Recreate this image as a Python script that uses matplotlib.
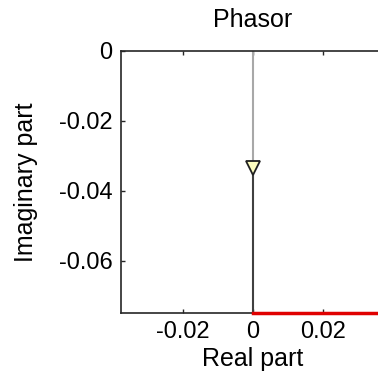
import matplotlib
matplotlib.use("Agg")
import matplotlib.pyplot as plt

plt.rcParams['font.family'] = ['Liberation Sans', 'DejaVu Sans']

# phasor data
phasor_x = [0.0, 0.0]
phasor_y = [0.0, -0.033]
tail_x = [0.0, 0.0]
tail_y = [-0.035, -0.075]
trace_x = [0.0, 0.04]
trace_y = [-0.075, -0.075]
arrow_x = [0.0]
arrow_y = [-0.0335]

xticks = [-0.02, 0, 0.02]
xlabels = ['-0.02', '0', '0.02']
yticks = [0, -0.02, -0.04, -0.06]
ylabels = ['0', '-0.02', '-0.04', '-0.06']

fig = plt.figure(figsize=(3.78, 3.85), dpi=100)
ax = fig.add_axes([0.320, 0.186, 0.699, 0.682])

ax.plot(phasor_x, phasor_y, color='#a8a8a8', lw=1.5, zorder=2)
ax.plot(tail_x, tail_y, color='#404040', lw=1.5, zorder=2)
ax.plot(trace_x, trace_y, color='#e00000', lw=2.5, zorder=3, clip_on=False)
ax.plot(arrow_x, arrow_y, marker='v', ms=10, mfc='#ffffc0', mec='#202020',
        mew=1.3, ls='none', zorder=4)

ax.set_xlim(-0.0377, 0.0377)
ax.set_ylim(-0.075, 0)
ax.set_xticks(xticks)
ax.set_xticklabels(xlabels)
ax.set_yticks(yticks)
ax.set_yticklabels(ylabels)
ax.tick_params(direction='in', length=3, width=1, labelsize=17, top=True,
               right=True, color='#262626')
ax.tick_params(axis='x', pad=5.5)
ax.tick_params(axis='y', pad=6)
for s in ax.spines.values():
    s.set_color('#262626')
    s.set_linewidth(1.2)

ax.set_title('Phasor', fontsize=18, pad=17)
ax.set_xlabel('Real part', fontsize=18, labelpad=3)
ax.set_ylabel('Imaginary part', fontsize=18, labelpad=15)

fig.savefig('out.png', dpi=100)
